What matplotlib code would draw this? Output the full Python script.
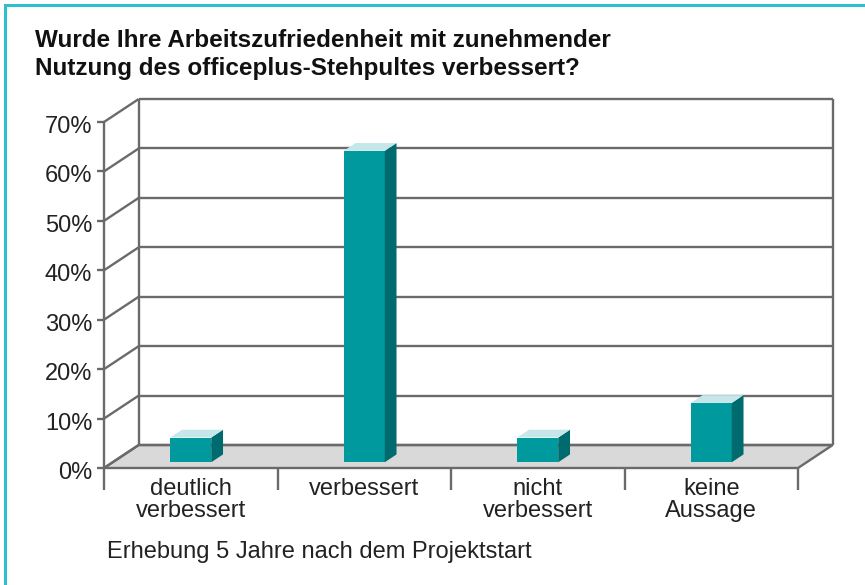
import matplotlib.pyplot as plt
from matplotlib.lines import Line2D
from matplotlib.patches import Polygon

plt.rcParams["font.family"] = ["Liberation Sans", "DejaVu Sans"]

title = "Wurde Ihre Arbeitszufriedenheit mit zunehmender\nNutzung des officeplus-Stehpultes verbessert?"
note = "Erhebung 5 Jahre nach dem Projektstart"
categories = ["deutlich\nverbessert", "verbessert", "nicht\nverbessert", "keine\nAussage"]
values = [5, 63, 5, 12]
yticks = [0, 10, 20, 30, 40, 50, 60, 70]
ytick_labels = ["0%", "10%", "20%", "30%", "40%", "50%", "60%", "70%"]

W, H = 865, 585
GRID = "#6a6a6a"
FRONT, SIDE, TOP = "#00999e", "#006b6f", "#c6e7e9"
FLOOR = "#d9d9d9"

fig = plt.figure(figsize=(W / 100, H / 100), dpi=100)
fig.patch.set_facecolor("white")

# axes = front plane of the pseudo-3D box
ax = fig.add_axes([104 / W, 1 - 468 / H, (798 - 104) / W, (468 - 122) / H])
n = len(categories)
ymax = yticks[-1]
ax.set_xlim(0, n)
ax.set_ylim(0, ymax)
ax.axis("off")

DX, DY = 0.2, 4.65  # depth of the box in data units
BW = 0.236          # bar width
F0, F1 = 0.25, 0.59  # bar front / back as fraction of depth


def line(xs, ys, **kw):
    ax.plot(xs, ys, color=GRID, lw=1.7, clip_on=False, solid_capstyle="butt", **kw)


# floor
ax.add_patch(Polygon([(0, 0), (n, 0), (n + DX, DY), (DX, DY)], closed=True,
                     fc=FLOOR, ec=GRID, lw=1.7, clip_on=False, zorder=1))

# back wall, side wall, ticks
for t, lab in zip(yticks, ytick_labels):
    line([DX, n + DX], [t + DY, t + DY], zorder=1)
    line([0, DX], [t, t + DY], zorder=1)
    line([-0.04, 0], [t, t], zorder=1)
    ax.text(-0.068, t - 1.0, lab, ha="right", va="center", fontsize=17,
            color="#222222")
line([DX, DX], [DY, ymax + DY], zorder=1)
line([n + DX, n + DX], [DY, ymax + DY], zorder=1)
line([0, 0], [0, ymax], zorder=1)

# category separators below the floor
for i in range(n + 1):
    line([i, i], [-4.5, 0], zorder=1)

# bars
for i, v in enumerate(values):
    x0 = i + 0.5 - BW / 2 - 0.05
    fx, fy = F0 * DX, F0 * DY
    bx, by = F1 * DX, F1 * DY
    front = [(x0 + fx, fy), (x0 + BW + fx, fy), (x0 + BW + fx, v + fy), (x0 + fx, v + fy)]
    side = [(x0 + BW + fx, fy), (x0 + BW + bx, by), (x0 + BW + bx, v + by), (x0 + BW + fx, v + fy)]
    top = [(x0 + fx, v + fy), (x0 + BW + fx, v + fy), (x0 + BW + bx, v + by), (x0 + bx, v + by)]
    for pts, c in ((front, FRONT), (side, SIDE), (top, TOP)):
        ax.add_patch(Polygon(pts, closed=True, fc=c, ec="none", clip_on=False, zorder=3))
    ax.text(i + 0.5, -2.0, categories[i], ha="center", va="top", fontsize=17,
            linespacing=0.98, color="#222222")

fig.text(35 / W, 1 - 29 / H, title, ha="left", va="top", fontsize=17.5,
         fontweight="bold", color="#111111", linespacing=1.27)
fig.text(107 / W, 1 - 552 / H, note, ha="left", va="center", fontsize=17,
         color="#222222")

# teal frame (top and left)
fig.add_artist(Line2D([5 / W, 1], [1 - 5 / H, 1 - 5 / H], color="#2bc0cc", lw=2.2,
                      transform=fig.transFigure))
fig.add_artist(Line2D([5 / W, 5 / W], [0, 1 - 5 / H], color="#2bc0cc", lw=2.2,
                      transform=fig.transFigure))

fig.savefig("out.png", dpi=100)
